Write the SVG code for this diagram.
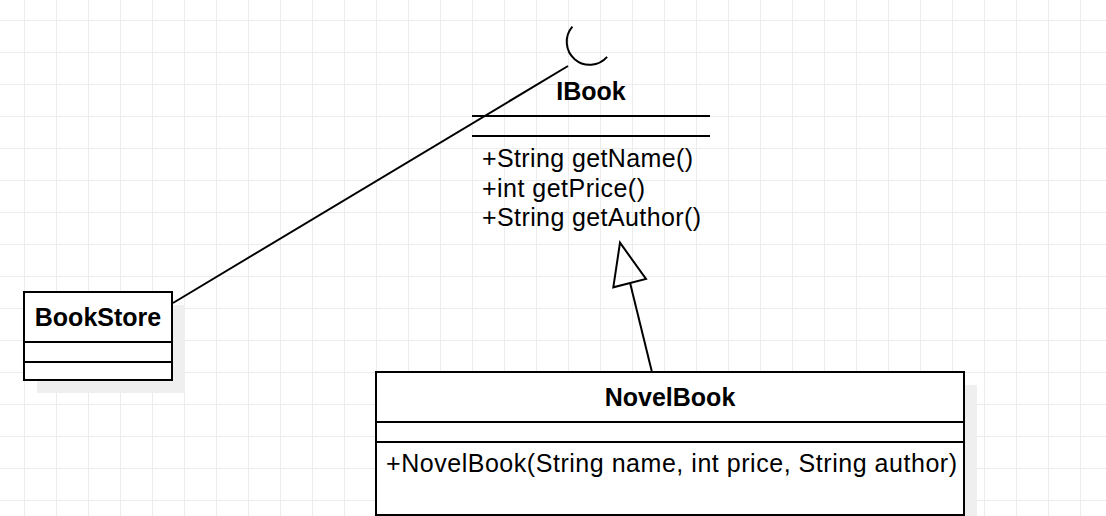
<svg xmlns="http://www.w3.org/2000/svg" width="1106" height="516" viewBox="0 0 1106 516">
  <defs>
    <pattern id="grid" x="24" y="20" width="32" height="32" patternUnits="userSpaceOnUse">
      <path d="M0 0.5 H32 M0.5 0 V32" fill="none" stroke="#ececec" stroke-width="1"/>
    </pattern>
    <style>
      .box { fill: #ffffff; stroke: #000000; stroke-width: 2; }
      .shadow { fill: #efefef; stroke: none; }
      .sep { stroke: #000000; stroke-width: 2; fill: none; }
      .title { font-family: "Liberation Sans", Arial, sans-serif; font-size: 25px; font-weight: bold; fill: #000000; text-anchor: middle; }
      .member { font-family: "Liberation Sans", Arial, sans-serif; font-size: 25px; fill: #000000; }
      .conn { stroke: #000000; stroke-width: 2; fill: none; }
    </style>
  </defs>
  <rect x="0" y="0" width="1106" height="516" fill="#ffffff"/>
  <rect x="0" y="0" width="1106" height="516" fill="url(#grid)"/>

  <g id="connectors">
    <path class="conn" d="M173 303 L568 66"/>
    <path class="conn" d="M651.7 371 L630.1 283.1"/>
    <polygon class="conn" fill="#ffffff" points="620,242.7 646,279 613.3,287.3"/>
  </g>

  <g id="lollipop">
    <path class="conn" d="M572.4 26.7 A23 23 0 0 0 607.1 56.9"/>
  </g>

  <g id="IBook">
    <text class="title" x="591" y="100">IBook</text>
    <line class="sep" x1="472" y1="116" x2="710" y2="116"/>
    <line class="sep" x1="472" y1="136" x2="710" y2="136"/>
    <text class="member" x="482" y="167" textLength="211" lengthAdjust="spacing">+String getName()</text>
    <text class="member" x="482" y="196.5" textLength="163" lengthAdjust="spacing">+int getPrice()</text>
    <text class="member" x="482" y="226" textLength="219" lengthAdjust="spacing">+String getAuthor()</text>
  </g>

  <g id="BookStore">
    <rect class="shadow" x="37" y="305" width="148" height="88"/>
    <rect class="box" x="24" y="292" width="148" height="88"/>
    <line class="sep" x1="24" y1="342" x2="172" y2="342"/>
    <line class="sep" x1="24" y1="362" x2="172" y2="362"/>
    <text class="title" x="98" y="326">BookStore</text>
  </g>

  <g id="NovelBook">
    <rect class="shadow" x="389" y="385" width="588" height="143"/>
    <rect class="box" x="376" y="372" width="588" height="143"/>
    <line class="sep" x1="376" y1="422" x2="964" y2="422"/>
    <line class="sep" x1="376" y1="442" x2="964" y2="442"/>
    <text class="title" x="670" y="406">NovelBook</text>
    <text class="member" x="386" y="471.5" textLength="571" lengthAdjust="spacing">+NovelBook(String name, int price, String author)</text>
  </g>
</svg>
